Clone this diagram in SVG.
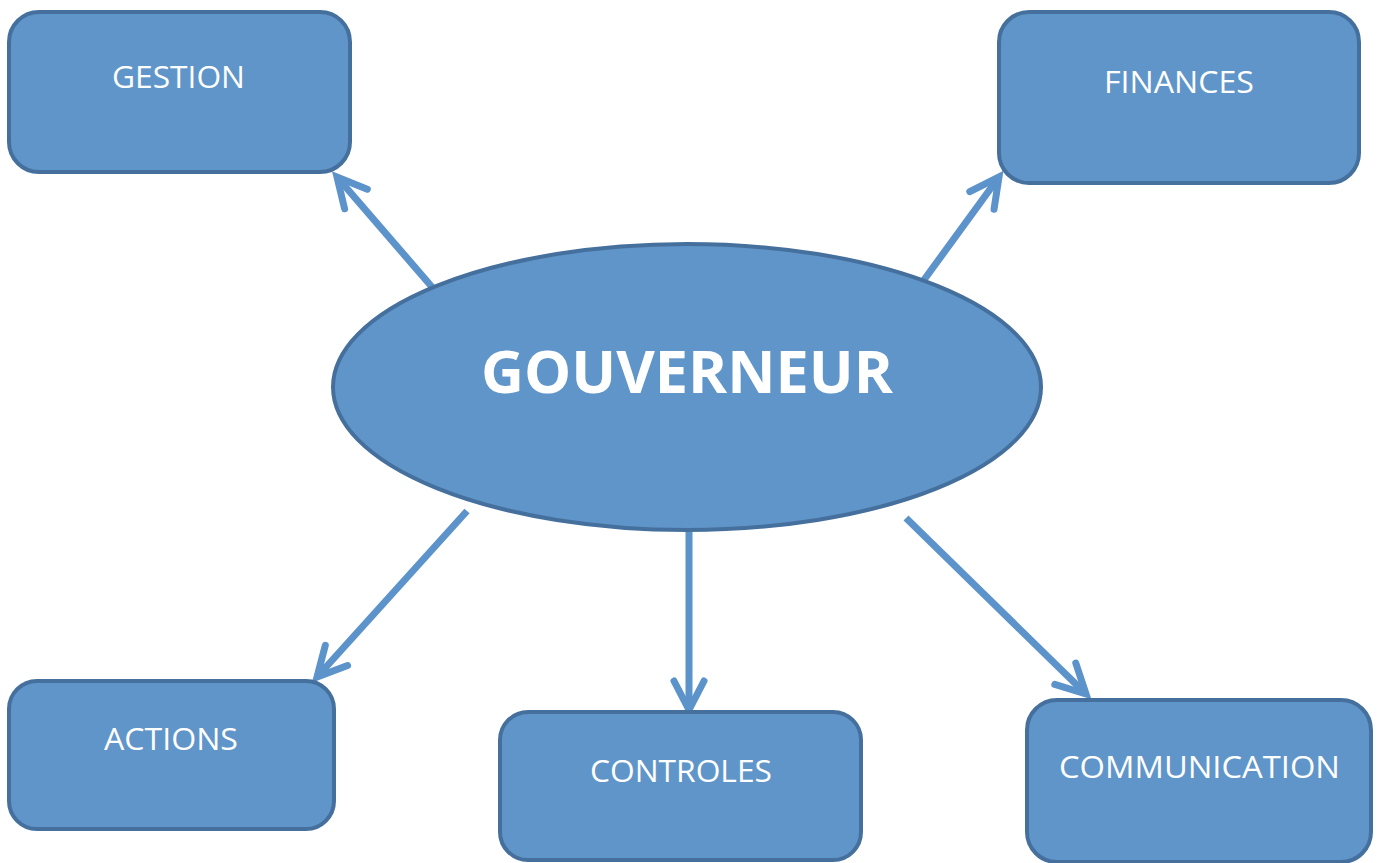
<svg xmlns="http://www.w3.org/2000/svg" width="1382" height="863" viewBox="0 0 1382 863">
<defs>
<style>
.box{fill:#6095c9;stroke:#45709d;stroke-width:4}
.lbl{font-family:"Open Sans","Liberation Sans",sans-serif;font-size:31px;fill:#ffffff;text-anchor:middle}
.big{font-family:"Open Sans","Liberation Sans",sans-serif;font-size:59px;font-weight:bold;fill:#ffffff;text-anchor:middle}
.con{stroke:#5b93ca;stroke-width:7;fill:none;marker-end:url(#ah)}
</style>
<marker id="ah" markerUnits="userSpaceOnUse" markerWidth="60" markerHeight="60" viewBox="-40 -30 60 60" refX="0" refY="0" orient="auto" overflow="visible">
<path d="M-29,-15 L0,0 L-29,15" fill="none" stroke="#5b93ca" stroke-width="7" stroke-linecap="round" stroke-linejoin="miter"/>
</marker>
</defs>
<rect width="1382" height="863" fill="#ffffff"/>
<g id="connectors">
<line class="con" x1="432" y1="287" x2="337" y2="177"/>
<line class="con" x1="921" y1="284" x2="999" y2="177"/>
<line class="con" x1="467" y1="511" x2="317" y2="677"/>
<line class="con" x1="689" y1="532" x2="689" y2="710"/>
<line class="con" x1="906" y1="518" x2="1086" y2="694"/>
</g>
<g id="gouverneur">
<ellipse class="box" cx="687" cy="387" rx="354" ry="143"/>
<text class="big" x="687" y="393" textLength="412" lengthAdjust="spacingAndGlyphs">GOUVERNEUR</text>
</g>
<g id="gestion">
<rect class="box" x="9" y="12" width="341" height="160" rx="30"/>
<text class="lbl" x="178.5" y="88" textLength="133" lengthAdjust="spacingAndGlyphs">GESTION</text>
</g>
<g id="finances">
<rect class="box" x="999" y="12" width="360" height="171" rx="30"/>
<text class="lbl" x="1179" y="93" textLength="150" lengthAdjust="spacingAndGlyphs">FINANCES</text>
</g>
<g id="actions">
<rect class="box" x="9" y="681" width="325" height="148" rx="28"/>
<text class="lbl" x="171" y="750" textLength="134" lengthAdjust="spacingAndGlyphs">ACTIONS</text>
</g>
<g id="controles">
<rect class="box" x="500" y="712" width="361" height="148" rx="28"/>
<text class="lbl" x="681" y="782" textLength="182" lengthAdjust="spacingAndGlyphs">CONTROLES</text>
</g>
<g id="communication">
<rect class="box" x="1027" y="700" width="344" height="162" rx="30"/>
<text class="lbl" x="1199.5" y="778" textLength="281" lengthAdjust="spacingAndGlyphs">COMMUNICATION</text>
</g>
</svg>
